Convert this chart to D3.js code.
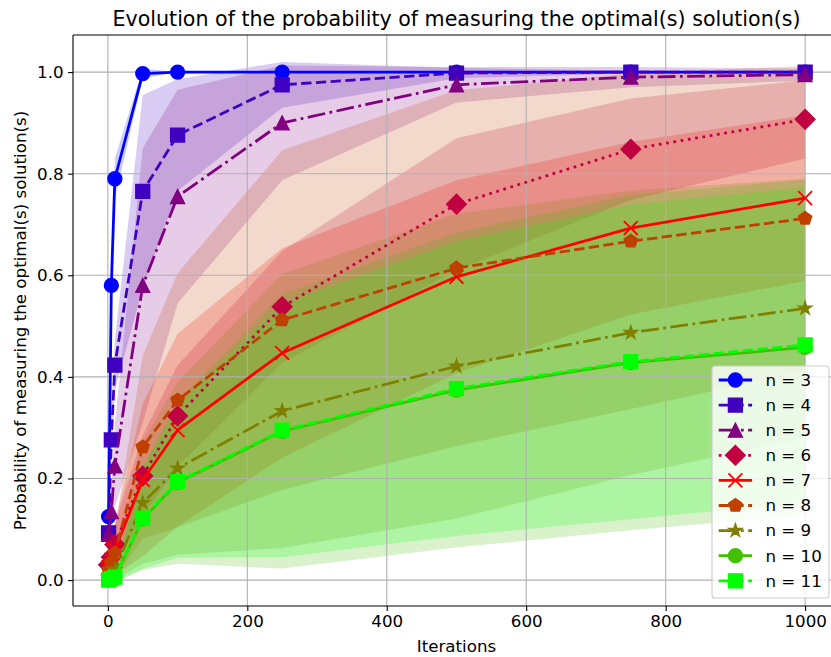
<!DOCTYPE html>
<html><head><meta charset="utf-8">
<script src="https://cdn.jsdelivr.net/npm/d3@7"></script>
<style>body{margin:0;background:#fff} svg{display:block} text{font-family:"DejaVu Sans",sans-serif;fill:#000}</style>
</head><body><svg id="chart" width="831" height="657"></svg>
<script>
// ---------- data ----------
const iterations = [1, 5, 10, 50, 100, 250, 500, 750, 1000];
const labels = ["n = 3","n = 4","n = 5","n = 6","n = 7","n = 8","n = 9","n = 10","n = 11"];
const colors = ["#0000ff","#4000c0","#800080","#c00040","#ff0000","#c04000","#808000","#40c000","#00ff00"];
const markers = ["circle","square","triangle","diamond","x","pentagon","star","circle","square"];
const dashes = ["solid","dashed","dashdot","dotted","solid","dashed","dashdot","solid","dashed"];

const mean3  = [0.125, 0.58, 0.79, 0.997, 1.0, 1.0, 1.0, 1.0, 1.0];
const mean4  = [0.093, 0.276, 0.423, 0.765, 0.876, 0.975, 0.998, 1.0, 1.0];
const mean5  = [0.09, 0.135, 0.225, 0.58, 0.755, 0.90, 0.975, 0.99, 0.995];
const mean6  = [0.03, 0.045, 0.07, 0.205, 0.323, 0.538, 0.74, 0.848, 0.907];
const mean7  = [0.025, 0.04, 0.06, 0.197, 0.295, 0.447, 0.597, 0.693, 0.752];
const mean8  = [0.02, 0.035, 0.053, 0.262, 0.354, 0.512, 0.614, 0.667, 0.712];
const mean9  = [0.005, 0.012, 0.02, 0.152, 0.22, 0.333, 0.421, 0.487, 0.535];
const mean10 = [0.0, 0.003, 0.006, 0.12, 0.192, 0.293, 0.374, 0.428, 0.458];
const mean11 = [0.0, 0.003, 0.006, 0.122, 0.194, 0.295, 0.377, 0.43, 0.463];

const std3  = [0.03, 0.04, 0.04, 0.01, 0.0, 0.0, 0.0, 0.0, 0.0];
const std4  = [0.03, 0.04, 0.05, 0.19, 0.11, 0.045, 0.01, 0.003, 0.0];
const std5  = [0.03, 0.05, 0.08, 0.27, 0.21, 0.113, 0.035, 0.02, 0.012];
const std6  = [0.02, 0.03, 0.04, 0.08, 0.10, 0.11, 0.13, 0.10, 0.077];
const std7  = [0.02, 0.03, 0.05, 0.15, 0.19, 0.206, 0.19, 0.17, 0.163];
const std8  = [0.02, 0.03, 0.05, 0.18, 0.25, 0.334, 0.35, 0.33, 0.30];
const std9  = [0.01, 0.015, 0.02, 0.12, 0.17, 0.27, 0.30, 0.28, 0.255];
const std10 = [0.005, 0.008, 0.01, 0.10, 0.16, 0.27, 0.31, 0.33, 0.33];
const std11 = [0.005, 0.008, 0.01, 0.10, 0.15, 0.25, 0.29, 0.31, 0.31];

const xTicks = [0, 200, 400, 600, 800, 1000];
const yTicks = [0.0, 0.2, 0.4, 0.6, 0.8, 1.0];
const titleText = "Evolution of the probability of measuring the optimal(s) solution(s)";
const xLabel = "Iterations";
const yLabel = "Probability of measuring the optimal(s) solution(s)";

const means = [mean3, mean4, mean5, mean6, mean7, mean8, mean9, mean10, mean11];
const stds  = [std3, std4, std5, std6, std7, std8, std9, std10, std11];

// ---------- layout ----------
const L = 73, R = 840, T = 35, B = 606;
const x = d3.scaleLinear().domain([-50, 1050]).range([L, R]);
const y = d3.scaleLinear().domain([-0.051, 1.073]).range([B, T]);
const svg = d3.select("#chart");
const LW = 2.78, MS = 13.9, MEW = 1.39;
const dashMap = {
  solid: null,
  dashed: [3.7*LW, 1.6*LW].join(","),
  dashdot: [6.4*LW, 1.6*LW, 1*LW, 1.6*LW].join(","),
  dotted: [1*LW, 1.65*LW].join(",")
};

svg.append("defs").append("clipPath").attr("id","clip")
  .append("rect").attr("x",L).attr("y",T).attr("width",R-L).attr("height",B-T);

// fills
const gFill = svg.append("g").attr("clip-path","url(#clip)");
means.forEach((m, i) => {
  const pts = iterations.map((it, k) => ({it, lo: m[k] - stds[i][k], hi: m[k] + stds[i][k]}));
  const area = d3.area().x(d => x(d.it)).y0(d => y(d.lo)).y1(d => y(d.hi));
  gFill.append("path").attr("d", area(pts)).attr("fill", colors[i]).attr("fill-opacity", 0.2);
});

// grid
const gGrid = svg.append("g").attr("stroke","#b0b0b0").attr("stroke-width",1.1);
xTicks.forEach(t => gGrid.append("line").attr("x1",x(t)).attr("x2",x(t)).attr("y1",T).attr("y2",B));
yTicks.forEach(t => gGrid.append("line").attr("x1",L).attr("x2",R).attr("y1",y(t)).attr("y2",y(t)));

// marker path generator
function markerPath(type, s) {
  const h = s / 2;
  switch (type) {
    case "square": return `M${-h},${-h}H${h}V${h}H${-h}Z`;
    case "triangle": return `M0,${-h}L${-h},${h}L${h},${h}Z`;
    case "diamond": { const d = s * Math.SQRT1_2; return `M0,${-d}L${d},0L0,${d}L${-d},0Z`; }
    case "x": return `M${-h},${-h}L${h},${h}M${-h},${h}L${h},${-h}`;
    case "pentagon": {
      let p = "";
      for (let k = 0; k < 5; k++) { const a = -Math.PI/2 + k*2*Math.PI/5; p += (k?"L":"M") + (h*Math.cos(a)).toFixed(2) + "," + (h*Math.sin(a)).toFixed(2); }
      return p + "Z";
    }
    case "star": {
      let p = ""; const ri = h * 0.381966;
      for (let k = 0; k < 10; k++) { const a = -Math.PI/2 + k*Math.PI/5; const r = k%2 ? ri : h; p += (k?"L":"M") + (r*Math.cos(a)).toFixed(2) + "," + (r*Math.sin(a)).toFixed(2); }
      return p + "Z";
    }
  }
}
function drawMarker(g, type, cx, cy, color) {
  const h = MS/2;
  if (type === "circle") {
    g.append("circle").attr("cx",cx).attr("cy",cy).attr("r",h).attr("fill",color).attr("stroke",color).attr("stroke-width",MEW);
  } else if (type === "x") {
    g.append("path").attr("d",markerPath(type, MS)).attr("transform",`translate(${cx},${cy})`)
      .attr("fill","none").attr("stroke",color).attr("stroke-width",MEW*1.3);
  } else {
    g.append("path").attr("d",markerPath(type, MS)).attr("transform",`translate(${cx},${cy})`)
      .attr("fill",color).attr("stroke",color).attr("stroke-width",MEW).attr("stroke-linejoin","miter");
  }
}

// lines + markers
const gLines = svg.append("g");
const line = d3.line().x(d => x(d[0])).y(d => y(d[1]));
means.forEach((m, i) => {
  const data = iterations.map((it, k) => [it, m[k]]);
  const p = gLines.append("path").attr("d", line(data)).attr("fill","none")
    .attr("stroke", colors[i]).attr("stroke-width", LW).attr("stroke-linejoin","round");
  if (dashMap[dashes[i]]) p.attr("stroke-dasharray", dashMap[dashes[i]]);
  data.forEach(d => drawMarker(gLines, markers[i], x(d[0]), y(d[1]), colors[i]));
});

// spines
const gAx = svg.append("g").attr("stroke","#000").attr("stroke-width",1.1);
gAx.append("line").attr("x1",L).attr("x2",L).attr("y1",T).attr("y2",B);
gAx.append("line").attr("x1",L).attr("x2",R).attr("y1",B).attr("y2",B);
gAx.append("line").attr("x1",L).attr("x2",R).attr("y1",T).attr("y2",T);
gAx.append("line").attr("x1",R).attr("x2",R).attr("y1",T).attr("y2",B);

// axes ticks via d3 axis
const xAxis = d3.axisBottom(x).tickValues(xTicks).tickSize(4.9).tickPadding(4.5).tickFormat(d3.format("d"));
const yAxis = d3.axisLeft(y).tickValues(yTicks).tickSize(4.9).tickPadding(4.5).tickFormat(d3.format(".1f"));
const gx = svg.append("g").attr("transform",`translate(0,${B})`).call(xAxis);
const gy = svg.append("g").attr("transform",`translate(${L},0)`).call(yAxis);
[gx, gy].forEach(g => {
  g.select(".domain").remove();
  g.selectAll(".tick line").attr("stroke","#000").attr("stroke-width",1.1);
  g.selectAll(".tick text").attr("font-family","DejaVu Sans").attr("font-size",16.7).attr("fill","#000");
});

// labels
svg.append("text").attr("x",(L+R)/2).attr("y",26).attr("text-anchor","middle").attr("font-size",20.6).text(titleText);
svg.append("text").attr("x",(L+R)/2).attr("y",652).attr("text-anchor","middle").attr("font-size",16.7).text(xLabel);
svg.append("text").attr("transform",`translate(26,${(T+B)/2}) rotate(-90)`).attr("text-anchor","middle").attr("font-size",16.7).text(yLabel);

// legend
const lg = svg.append("g");
const lx = 712, ly = 366, lw = 117, lh = 232, rowH = 25.1;
lg.append("rect").attr("x",lx).attr("y",ly).attr("width",lw).attr("height",lh).attr("rx",3)
  .attr("fill","#fff").attr("fill-opacity",0.8).attr("stroke","#cccccc").attr("stroke-width",1.1);
labels.forEach((lab, i) => {
  const cy = 380 + i * rowH;
  const x0 = lx + 6.7, x1 = x0 + 33.4;
  const p = lg.append("line").attr("x1",x0).attr("x2",x1).attr("y1",cy).attr("y2",cy)
    .attr("stroke",colors[i]).attr("stroke-width",LW);
  if (dashMap[dashes[i]]) p.attr("stroke-dasharray", dashMap[dashes[i]]);
  drawMarker(lg, markers[i], (x0+x1)/2, cy, colors[i]);
  lg.append("text").attr("x", x1 + 13.3).attr("y", cy).attr("dy","0.35em").attr("font-size",16.7).text(lab);
});
</script></body></html>
